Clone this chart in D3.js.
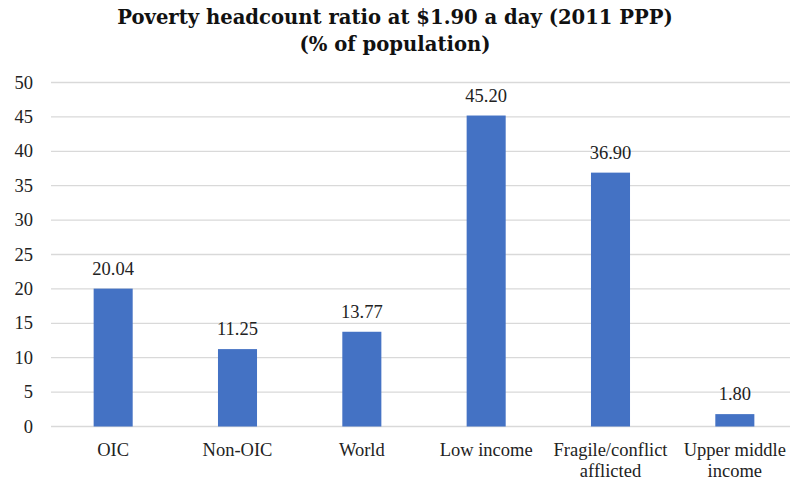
<!DOCTYPE html>
<html>
<head>
<meta charset="utf-8">
<script src="https://cdn.jsdelivr.net/npm/d3@7"></script>
<style>
  body { margin: 0; background: #fff; }
  svg { display: block; }
  text { font-family: "Liberation Serif", serif; }
</style>
</head>
<body>
<svg id="canvas" width="790" height="480"></svg>
<script>
var categories = [["OIC"], ["Non-OIC"], ["World"], ["Low income"], ["Fragile/conflict", "afflicted"], ["Upper middle", "income"]];
var values = [20.04, 11.25, 13.77, 45.20, 36.90, 1.80];
var yTicks = [0, 5, 10, 15, 20, 25, 30, 35, 40, 45, 50];
var titleLines = ["Poverty headcount ratio at $1.90 a day (2011 PPP)", "(% of population)"];

var svg = d3.select('#canvas');
var keys = categories.map(function(c){ return c.join(' '); });

var x = d3.scaleBand().domain(keys).range([51, 797]).paddingInner(0.686).paddingOuter(0.343);
var y = d3.scaleLinear().domain([0, 50]).range([426.5, 82.5]);

// title
svg.append('g').selectAll('text').data(titleLines).enter().append('text')
  .attr('x', 395).attr('y', function(d, i){ return 24 + i*27; })
  .attr('text-anchor', 'middle').attr('font-size', 19.6).attr('font-weight', 'bold').attr('fill', '#111')
  .style('font-family', '"DejaVu Serif", serif')
  .text(function(d){ return d; });

// grid
svg.append('g').selectAll('line').data(yTicks).enter().append('line')
  .attr('x1', 51).attr('x2', 797)
  .attr('y1', function(d){ return y(d); }).attr('y2', function(d){ return y(d); })
  .attr('stroke', '#d9d9d9').attr('stroke-width', 1.3);

// y labels
svg.append('g').selectAll('text').data(yTicks).enter().append('text')
  .attr('x', 33).attr('y', function(d){ return y(d) + 6; })
  .attr('text-anchor', 'end').attr('font-size', 18.5).attr('fill', '#222')
  .text(function(d){ return d; });

// bars
svg.append('g').selectAll('rect').data(values).enter().append('rect')
  .attr('x', function(d, i){ return x(keys[i]); })
  .attr('width', x.bandwidth())
  .attr('y', function(d){ return y(d); })
  .attr('height', function(d){ return y(0) - y(d); })
  .attr('fill', '#4472c4');

// value labels
svg.append('g').selectAll('text').data(values).enter().append('text')
  .attr('x', function(d, i){ return x(keys[i]) + x.bandwidth()/2; })
  .attr('y', function(d){ return y(d) - 14; })
  .attr('text-anchor', 'middle').attr('font-size', 18.5).attr('fill', '#222')
  .text(function(d){ return d.toFixed(2); });

// category labels
var cat = svg.append('g').selectAll('text').data(categories).enter().append('text')
  .attr('x', function(d, i){ return x(keys[i]) + x.bandwidth()/2; })
  .attr('y', 456)
  .attr('text-anchor', 'middle').attr('font-size', 18.5).attr('fill', '#222');
cat.selectAll('tspan').data(function(d){ return d; }).enter().append('tspan')
  .attr('x', function(){ return d3.select(this.parentNode).attr('x'); })
  .attr('dy', function(d, i){ return i === 0 ? 0 : 21; })
  .text(function(d){ return d; });
</script>
</body>
</html>
